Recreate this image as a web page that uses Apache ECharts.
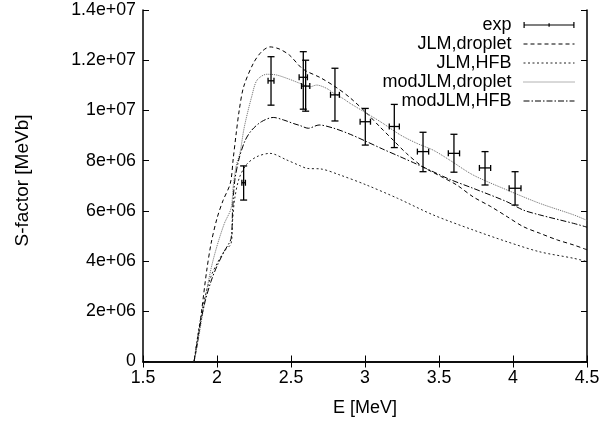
<!DOCTYPE html>
<html>
<head>
<meta charset="utf-8">
<script src="https://cdn.jsdelivr.net/npm/echarts@6/dist/echarts.min.js"></script>
<style>
html,body{margin:0;padding:0;background:#fff;}
#chart{width:613px;height:423px;}
</style>
</head>
<body>
<div id="chart"></div>
<script>
// ---- data ----
const xTicks = [1.5, 2, 2.5, 3, 3.5, 4, 4.5];
const yTickLabels = ['0', '2e+06', '4e+06', '6e+06', '8e+06', '1e+07', '1.2e+07', '1.4e+07'];

// experimental points
const expE    = [2.18, 2.365, 2.583, 2.599, 2.797, 3.002, 3.198, 3.392, 3.601, 3.811, 4.014];
const expS    = [7.12e6, 11.18e6, 11.32e6, 10.97e6, 10.62e6, 9.55e6, 9.36e6, 8.36e6, 8.29e6, 7.71e6, 6.90e6];
const expEerr = [0.012, 0.02, 0.028, 0.028, 0.03, 0.035, 0.034, 0.038, 0.038, 0.038, 0.04];
const expSlo  = [6.43e6, 10.21e6, 10.05e6, 9.97e6, 9.58e6, 8.62e6, 8.52e6, 7.56e6, 7.54e6, 7.03e6, 6.23e6];
const expShi  = [7.79e6, 12.14e6, 12.34e6, 12.0e6, 11.68e6, 10.08e6, 10.24e6, 9.13e6, 9.05e6, 8.36e6, 7.56e6];

// JLM,droplet
const jdE = [1.845, 1.87, 1.90, 1.93, 1.96, 2.00, 2.04, 2.09, 2.11, 2.13, 2.15, 2.18, 2.245, 2.30, 2.358, 2.42, 2.49, 2.58, 2.70, 2.81, 2.90, 3.01, 3.10, 3.19, 3.28, 3.39, 3.51, 3.62, 3.73, 3.85, 3.96, 4.07, 4.18, 4.30, 4.41, 4.5];
const jdS = [0, 0.8e6, 2.2e6, 3.6e6, 4.7e6, 5.7e6, 6.4e6, 7.1e6, 8.1e6, 9.1e6, 10.0e6, 10.94e6, 11.87e6, 12.33e6, 12.53e6, 12.45e6, 12.2e6, 11.65e6, 11.3e6, 10.9e6, 10.5e6, 9.9e6, 9.35e6, 8.82e6, 8.29e6, 7.76e6, 7.38e6, 7.03e6, 6.56e6, 6.17e6, 5.77e6, 5.37e6, 5.11e6, 4.84e6, 4.64e6, 4.45e6];

// JLM,HFB
const jhE = [1.845, 1.88, 1.92, 1.96, 2.00, 2.05, 2.095, 2.105, 2.12, 2.15, 2.20, 2.27, 2.358, 2.47, 2.56, 2.61, 2.70, 2.83, 3.01, 3.22, 3.46, 3.73, 3.96, 4.18, 4.41, 4.5];
const jhS = [0, 1.4e6, 2.6e6, 3.4e6, 3.9e6, 4.4e6, 4.7e6, 5.6e6, 6.5e6, 7.3e6, 7.85e6, 8.16e6, 8.29e6, 8.03e6, 7.8e6, 7.69e6, 7.67e6, 7.43e6, 7.03e6, 6.5e6, 5.84e6, 5.24e6, 4.77e6, 4.37e6, 4.11e6, 3.98e6];

// modJLM,droplet
const mdE = [1.845, 1.88, 1.92, 1.96, 2.00, 2.05, 2.095, 2.11, 2.13, 2.155, 2.18, 2.20, 2.234, 2.27, 2.336, 2.403, 2.49, 2.56, 2.628, 2.673, 2.74, 2.79, 2.85, 2.90, 3.01, 3.12, 3.24, 3.35, 3.46, 3.57, 3.73, 3.96, 4.18, 4.41, 4.5];
const mdS = [0, 1.1e6, 2.5e6, 3.7e6, 4.6e6, 5.5e6, 6.1e6, 7.0e6, 7.8e6, 8.3e6, 9.2e6, 9.75e6, 10.54e6, 11.2e6, 11.44e6, 11.41e6, 11.24e6, 11.08e6, 10.94e6, 11.01e6, 10.88e6, 10.68e6, 10.48e6, 10.28e6, 9.89e6, 9.49e6, 9.02e6, 8.69e6, 8.42e6, 8.03e6, 7.43e6, 6.83e6, 6.30e6, 5.84e6, 5.62e6];

// modJLM,HFB
const mhE = [1.845, 1.88, 1.92, 1.96, 2.00, 2.05, 2.095, 2.105, 2.12, 2.15, 2.19, 2.234, 2.30, 2.38, 2.45, 2.516, 2.56, 2.617, 2.69, 2.79, 2.90, 3.01, 3.12, 3.236, 3.35, 3.46, 3.57, 3.73, 3.96, 4.07, 4.18, 4.41, 4.5];
const mhS = [0, 1.3e6, 2.4e6, 3.2e6, 3.8e6, 4.4e6, 4.9e6, 6.0e6, 7.2e6, 8.1e6, 8.8e6, 9.21e6, 9.55e6, 9.72e6, 9.62e6, 9.48e6, 9.40e6, 9.29e6, 9.42e6, 9.29e6, 9.05e6, 8.76e6, 8.46e6, 8.16e6, 7.86e6, 7.56e6, 7.26e6, 6.9e6, 6.36e6, 6.03e6, 5.84e6, 5.50e6, 5.35e6];

// ---- chart ----
const FONT = '"Liberation Sans", Arial, Helvetica, sans-serif';
const zip = (a, b) => a.map((v, i) => [v, b[i]]);
const expData = expE.map((e, i) => [e, expS[i], expEerr[i], expSlo[i], expShi[i]]);

function renderErr(params, api) {
  const E = api.value(0), S = api.value(1), ex = api.value(2), lo = api.value(3), hi = api.value(4);
  const pl = api.coord([E - ex, S]), pr = api.coord([E + ex, S]);
  const pt = api.coord([E, hi]), pb = api.coord([E, lo]);
  const cw = 3.5, ch = 3;
  const st = { stroke: '#000', lineWidth: 1.3, fill: null };
  const ln = (x1, y1, x2, y2) => ({ type: 'line', shape: { x1, y1, x2, y2 }, style: st });
  return {
    type: 'group',
    children: [
      ln(pt[0], pt[1], pb[0], pb[1]),
      ln(pt[0] - cw, pt[1], pt[0] + cw, pt[1]),
      ln(pb[0] - cw, pb[1], pb[0] + cw, pb[1]),
      ln(pl[0], pl[1], pr[0], pr[1]),
      ln(pl[0], pl[1] - ch, pl[0], pl[1] + ch),
      ln(pr[0], pr[1] - ch, pr[0], pr[1] + ch)
    ]
  };
}

const axisLine = { show: true, lineStyle: { color: '#000', width: 1.5 } };
const tick = { show: true, inside: true, length: 6, lineStyle: { color: '#000', width: 1 } };
const noSym = { opacity: 0 };

const chart = echarts.init(document.getElementById('chart'), null, { renderer: 'canvas' });
chart.setOption({
  animation: false,
  backgroundColor: '#fff',
  textStyle: { fontFamily: FONT },
  grid: { left: 143, right: 26, top: 10, bottom: 61.5, containLabel: false },
  graphic: [{
    type: 'text', x: 23, y: 180.5, rotation: Math.PI / 2, silent: true,
    style: {
      text: 'S-factor [MeVb]', fill: '#000', font: '19px ' + FONT,
      textAlign: 'center', textVerticalAlign: 'middle'
    }
  }],
  legend: {
    orient: 'vertical',
    align: 'right',
    right: 38,
    top: 16,
    padding: 0,
    itemGap: 1,
    itemWidth: 51,
    itemHeight: 6,
    lineStyle: { width: 1 },
    textStyle: { fontFamily: FONT, fontSize: 18, color: '#000', lineHeight: 18, padding: [0, 7, 0, 0] },
    data: [
      { name: 'exp', icon: 'path://M0,2.4h51v1.2h-51z M0,0h1.2v6h-1.2z M49.8,0h1.2v6h-1.2z M25,1.2h1.2v3.6h-1.2z', itemStyle: { color: '#000' } },
      { name: 'JLM,droplet', itemStyle: noSym },
      { name: 'JLM,HFB', itemStyle: noSym },
      { name: 'modJLM,droplet', itemStyle: noSym },
      { name: 'modJLM,HFB', itemStyle: noSym }
    ]
  },
  xAxis: [
    {
      type: 'value', min: 1.5, max: 4.5, interval: 0.5,
      name: 'E [MeV]', nameLocation: 'middle', nameGap: 38,
      nameTextStyle: { fontFamily: FONT, fontSize: 18, color: '#000' },
      axisLine, axisTick: tick, splitLine: { show: false },
      axisLabel: { fontFamily: FONT, fontSize: 17.8, color: '#000', margin: 8 }
    },
    {
      type: 'value', min: 1.5, max: 4.5, interval: 0.5, position: 'top',
      axisLine, axisTick: tick, splitLine: { show: false }, axisLabel: { show: false }
    }
  ],
  yAxis: [
    {
      type: 'value', min: 0, max: 14e6, interval: 2e6,
      axisLine, axisTick: tick, splitLine: { show: false },
      axisLabel: {
        fontFamily: FONT, fontSize: 17.8, color: '#000', margin: 7,
        formatter: v => yTickLabels[Math.round(v / 2e6)]
      }
    },
    {
      type: 'value', min: 0, max: 14e6, interval: 2e6, position: 'right',
      axisLine, axisTick: tick, splitLine: { show: false }, axisLabel: { show: false }
    }
  ],
  series: [
    {
      name: 'exp', type: 'custom', renderItem: renderErr, data: expData,
      encode: { x: 0, y: 1 }, itemStyle: { color: '#000' }, z: 5
    },
    {
      name: 'JLM,droplet', type: 'line', data: zip(jdE, jdS), showSymbol: false, symbol: 'none',
      smooth: 0.3, color: '#000', lineStyle: { color: '#000', width: 1, type: [4, 3] }
    },
    {
      name: 'JLM,HFB', type: 'line', data: zip(jhE, jhS), showSymbol: false, symbol: 'none',
      smooth: 0.3, color: '#000', lineStyle: { color: '#222', width: 1, type: [2, 2.5] }
    },
    {
      name: 'modJLM,droplet', type: 'line', data: zip(mdE, mdS), showSymbol: false, symbol: 'none',
      smooth: 0.3, color: '#777', lineStyle: { color: '#666', width: 1, type: [1, 1] }
    },
    {
      name: 'modJLM,HFB', type: 'line', data: zip(mhE, mhS), showSymbol: false, symbol: 'none',
      smooth: 0.3, color: '#000', lineStyle: { color: '#000', width: 1, type: [6, 2, 1.5, 2] }
    }
  ]
});
</script>
</body>
</html>
